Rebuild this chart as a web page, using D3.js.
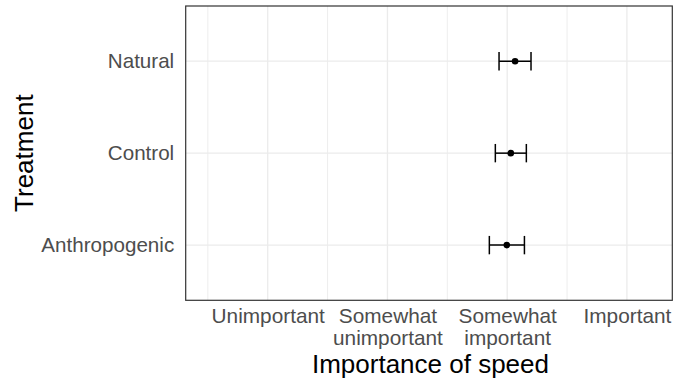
<!DOCTYPE html>
<html><head><meta charset="utf-8">
<script src="https://cdn.jsdelivr.net/npm/d3@7"></script>
<style>body{margin:0;background:#fff}svg{display:block}text{font-family:"Liberation Sans",Arial,sans-serif}</style>
</head><body><svg id="c" width="676" height="382"></svg>
<script>
const treatments = ["Anthropogenic", "Control", "Natural"];
const means = [2.997, 3.030, 3.066];
const lower = [2.851, 2.901, 2.932];
const upper = [3.144, 3.160, 3.199];
const xBreaks = [1, 2, 3, 4];
const xMinorBreaks = [0.5, 1.5, 2.5, 3.5];
const xTickLabels = [["Unimportant"], ["Somewhat", "unimportant"], ["Somewhat", "important"], ["Important"]];
const xTitle = "Importance of speed";
const yTitle = "Treatment";

const svg = d3.select("#c");
const P = {left: 185.7, right: 672.3, top: 6, bottom: 300.3};
const x = d3.scaleLinear().domain([0.315, 4.379]).range([P.left, P.right]);
const y = d3.scalePoint().domain(treatments).range([P.bottom, P.top]).padding(0.6);

const g = svg.append("g");
g.append("rect").attr("x", P.left).attr("y", P.top).attr("width", P.right - P.left).attr("height", P.bottom - P.top).attr("fill", "#fff");
// minor grid
g.selectAll(".vmin").data(xMinorBreaks).join("line")
  .attr("x1", d => x(d)).attr("x2", d => x(d)).attr("y1", P.top).attr("y2", P.bottom)
  .attr("stroke", "#EBEBEB").attr("stroke-width", 0.9);
// major grid
g.selectAll(".vmaj").data(xBreaks).join("line")
  .attr("x1", d => x(d)).attr("x2", d => x(d)).attr("y1", P.top).attr("y2", P.bottom)
  .attr("stroke", "#EBEBEB").attr("stroke-width", 1.3);
g.selectAll(".hmaj").data(treatments).join("line")
  .attr("x1", P.left).attr("x2", P.right).attr("y1", d => y(d)).attr("y2", d => y(d))
  .attr("stroke", "#EBEBEB").attr("stroke-width", 1.3);

// error bars
const capH = y.step() * 0.1;
const eb = g.selectAll(".eb").data(treatments).join("g");
eb.append("line").attr("x1", (d, i) => x(lower[i])).attr("x2", (d, i) => x(upper[i]))
  .attr("y1", d => y(d)).attr("y2", d => y(d)).attr("stroke", "#000").attr("stroke-width", 1.5);
eb.append("line").attr("x1", (d, i) => x(lower[i])).attr("x2", (d, i) => x(lower[i]))
  .attr("y1", d => y(d) - capH).attr("y2", d => y(d) + capH).attr("stroke", "#000").attr("stroke-width", 1.5);
eb.append("line").attr("x1", (d, i) => x(upper[i])).attr("x2", (d, i) => x(upper[i]))
  .attr("y1", d => y(d) - capH).attr("y2", d => y(d) + capH).attr("stroke", "#000").attr("stroke-width", 1.5);
eb.append("circle").attr("cx", (d, i) => x(means[i])).attr("cy", d => y(d)).attr("r", 3.3).attr("fill", "#000");

// border
g.append("rect").attr("x", P.left).attr("y", P.top).attr("width", P.right - P.left).attr("height", P.bottom - P.top)
  .attr("fill", "none").attr("stroke", "#333333").attr("stroke-width", 1.2);

// y axis labels
const yAxis = d3.axisLeft(y).tickSize(0).tickPadding(11.5);
const ya = svg.append("g").attr("transform", `translate(${P.left},0)`).call(yAxis);
ya.select(".domain").remove();
ya.selectAll("text").attr("font-size", 20.6).attr("fill", "#4D4D4D").attr("font-family", "Liberation Sans, Arial, sans-serif");

// x axis labels (multi-line)
const xAxis = d3.axisBottom(x).tickValues(xBreaks).tickSize(0).tickFormat("");
const xa = svg.append("g").attr("transform", `translate(0,${P.bottom})`).call(xAxis);
xa.select(".domain").remove();
xa.selectAll(".tick").each(function(d, i) {
  const t = d3.select(this).append("text").attr("fill", "#4D4D4D").attr("font-size", 20.8)
    .attr("text-anchor", "middle").attr("font-family", "Liberation Sans, Arial, sans-serif").attr("y", 22.8);
  xTickLabels[i].forEach((s, k) => t.append("tspan").attr("x", 0).attr("dy", k === 0 ? 0 : 22.4).text(s));
});

// titles
svg.append("text").attr("x", (P.left + P.right) / 2 + 1.5).attr("y", 373).attr("text-anchor", "middle")
  .attr("font-size", 26).attr("fill", "#000").text(xTitle);
svg.append("text").attr("transform", `translate(33,${(P.top + P.bottom) / 2}) rotate(-90)`).attr("text-anchor", "middle")
  .attr("font-size", 26).attr("fill", "#000").text(yTitle);
</script></body></html>
